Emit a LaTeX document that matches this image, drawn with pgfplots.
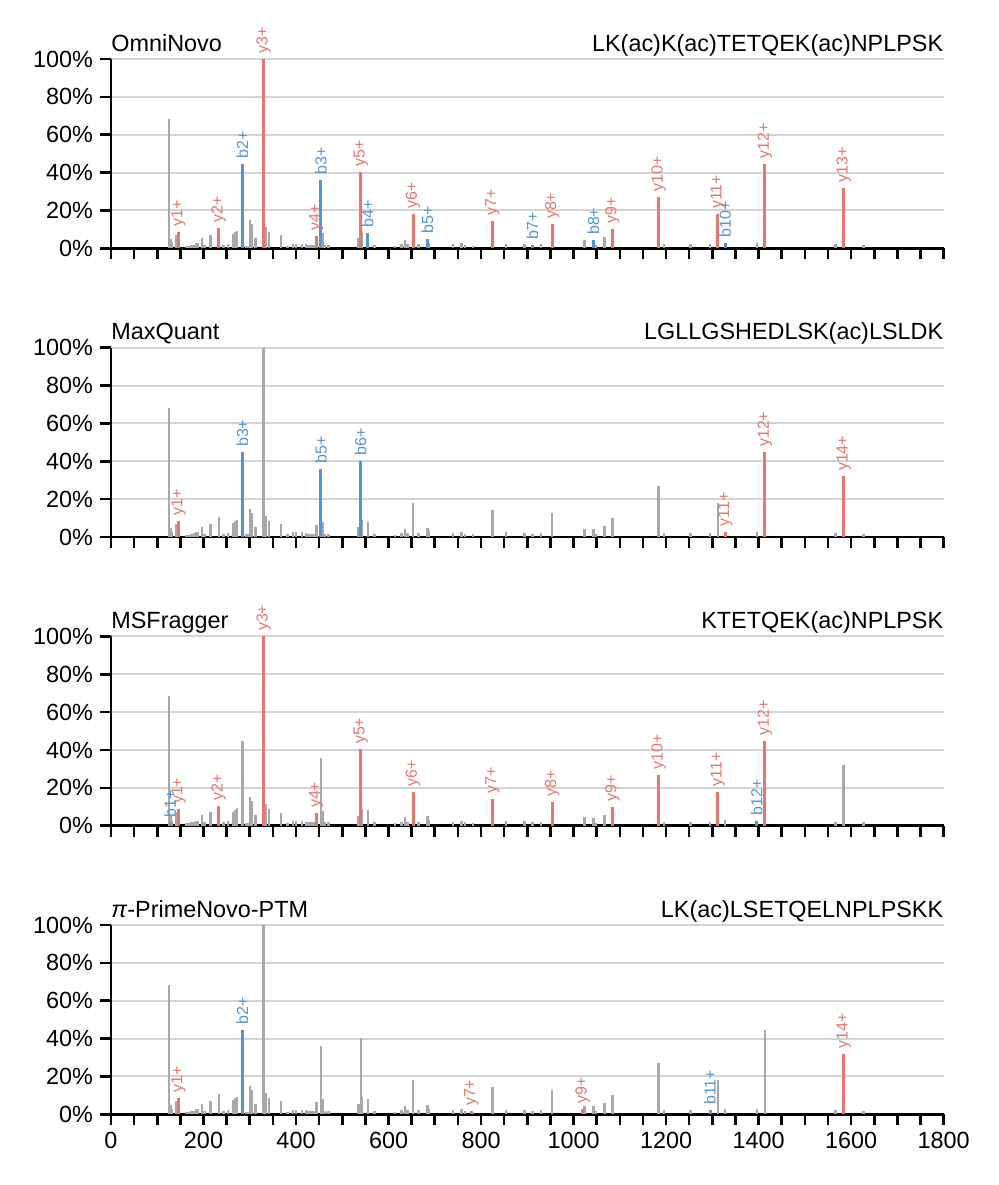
\documentclass[border=0pt]{standalone}
\usepackage{pgfplots}
\pgfplotsset{compat=1.18}
\usepackage{pgfplotstable}
\usepackage{fontspec}
\setmainfont{Liberation Sans}

\definecolor{ionred}{RGB}{232,118,108}
\definecolor{ionblue}{RGB}{82,150,213}
\definecolor{peakgray}{RGB}{168,168,168}
\definecolor{gridgray}{RGB}{212,212,212}

\newcommand{\lblfont}{\fontsize{11.7}{14}\selectfont}

% observed spectrum (m/z, relative intensity in %)
\pgfplotstableread{
mz int
125 68.3
129 5
132 2.6
141 7
146 8.6
163 1.2
168 1.2
174 1.8
179 2
184 2.6
188 2.6
197 5.5
202 1.8
215 7
233 10.6
243 1.8
253 2.3
264 7.4
268 8.5
272 9.2
284 44.7
292 1.4
296 1.4
300 15
304 12.9
312 5.5
330 100
334 11.3
341 8.6
368 6.9
382 1.4
393 2.5
400 2.5
413 2.5
421 2.1
426 1.8
431 1.8
434 1.8
438 1.8
444 6.5
454 36
457 8
462 1.8
470 1.8
535 5.3
540 40.3
543 9
555 8.1
570 1.8
614 1.2
628 2.1
636 4.4
641 2.1
653 18
665 2.1
684 4.9
688 3
740 2.1
758 2.6
765 1.8
783 1.4
825 14.3
854 2.5
894 2.3
911 1.8
929 2.1
954 12.6
1024 4.4
1043 4.2
1048 1.5
1067 5.8
1084 10
1184 27
1195 2.1
1253 2.1
1295 2.1
1312 18
1328 2.8
1396 2.6
1413.5 44.7
1566 2.1
1584 32
1627 1.8
}\spec

% OmniNovo
\pgfplotstableread{
mz int lab
146 8.6 y1+
233 10.6 y2+
330 100 y3+
444 6.5 y4+
540 40.3 y5+
653 18 y6+
825 14.3 y7+
954 12.6 y8+
1084 10 y9+
1184 27 y10+
1312 18 y11+
1413.5 44.7 y12+
1584 32 y13+
}\omniY
\pgfplotstableread{
mz int lab
284 44.7 b2+
454 36 b3+
555 8.1 b4+
684 4.9 b5+
911 1.8 b7+
1043 4.2 b8+
1328 2.8 b10+
}\omniB

% MaxQuant
\pgfplotstableread{
mz int lab
146 8.6 y1+
1328 2.8 y11+
1413.5 44.7 y12+
1584 32 y14+
}\maxY
\pgfplotstableread{
mz int lab
284 44.7 b3+
454 36 b5+
540 40.3 b6+
}\maxB

% MSFragger
\pgfplotstableread{
mz int lab
146 8.6 y1+
233 10.6 y2+
330 100 y3+
444 6.5 y4+
540 40.3 y5+
653 18 y6+
825 14.3 y7+
954 12.6 y8+
1084 10 y9+
1184 27 y10+
1312 18 y11+
1413.5 44.7 y12+
}\msfY
\pgfplotstableread{
mz int lab
128 1.5 b1+
1396 2.6 b12+
}\msfB

% pi-PrimeNovo-PTM
\pgfplotstableread{
mz int lab
146 8.6 y1+
779 1.5 y7+
1020 3 y9+
1584 32 y14+
}\pinY
\pgfplotstableread{
mz int lab
284 44.7 b2+
1295 2.1 b11+
}\pinB

\pgfplotsset{
  spectrum/.style={
    scale only axis, width=416.3pt, height=94.65pt,
    xmin=0, xmax=1800, ymin=0, ymax=100,
    axis x line*=bottom, axis y line*=left,
    axis line style={line width=1.3pt, black},
    xtick={0,200,...,1800}, minor x tick num=3,
    ytick={0,20,...,100}, yticklabels={0\%,20\%,40\%,60\%,80\%,100\%},
    tick align=outside, major tick length=5.5pt, minor tick length=5.5pt,
    tick style={line width=1.3pt, black},
    ymajorgrids, major grid style={line width=1pt, gridgray},
    tick label style={font=\lblfont},
    clip=false,
  },
  graypeaks/.style={ycomb, no marks, peakgray, line width=1.2pt},
  ions/.style={ycomb, no marks, line width=1.5pt, color=#1,
    nodes near coords, point meta=explicit symbolic,
    every node near coord/.append style={rotate=90, anchor=west, inner sep=2pt,
      text=#1, font=\fontsize{8}{9}\selectfont}},
}

\begin{document}
\begin{tikzpicture}
\useasboundingbox (-55.5pt,-468.35pt) rectangle (443.5pt,124.15pt);

\begin{axis}[spectrum, xticklabels={}]
\addplot[graypeaks] table[x=mz, y=int] {\spec};
\addplot[ions=ionred] table[x=mz, y=int, meta=lab] {\omniY};
\addplot[ions=ionblue] table[x=mz, y=int, meta=lab] {\omniB};
\node[anchor=base west, inner sep=0pt, font=\lblfont] at ([yshift=4pt]rel axis cs:0,1) {OmniNovo};
\node[anchor=base east, inner sep=0pt, font=\lblfont] at ([yshift=4pt]rel axis cs:1,1) {LK(ac)K(ac)TETQEK(ac)NPLPSK};
\end{axis}

\begin{axis}[spectrum, at={(0pt,-144.35pt)}, xticklabels={}]
\addplot[graypeaks] table[x=mz, y=int] {\spec};
\addplot[ions=ionred] table[x=mz, y=int, meta=lab] {\maxY};
\addplot[ions=ionblue] table[x=mz, y=int, meta=lab] {\maxB};
\node[anchor=base west, inner sep=0pt, font=\lblfont] at ([yshift=4pt]rel axis cs:0,1) {MaxQuant};
\node[anchor=base east, inner sep=0pt, font=\lblfont] at ([yshift=4pt]rel axis cs:1,1) {LGLLGSHEDLSK(ac)LSLDK};
\end{axis}

\begin{axis}[spectrum, at={(0pt,-288.7pt)}, xticklabels={}]
\addplot[graypeaks] table[x=mz, y=int] {\spec};
\addplot[ions=ionred] table[x=mz, y=int, meta=lab] {\msfY};
\addplot[ions=ionblue] table[x=mz, y=int, meta=lab] {\msfB};
\node[anchor=base west, inner sep=0pt, font=\lblfont] at ([yshift=4pt]rel axis cs:0,1) {MSFragger};
\node[anchor=base east, inner sep=0pt, font=\lblfont] at ([yshift=4pt]rel axis cs:1,1) {KTETQEK(ac)NPLPSK};
\end{axis}

\begin{axis}[spectrum, at={(0pt,-433pt)},
  xticklabels={0,200,400,600,800,1000,1200,1400,1600,1800}]
\addplot[graypeaks] table[x=mz, y=int] {\spec};
\addplot[ions=ionred] table[x=mz, y=int, meta=lab] {\pinY};
\addplot[ions=ionblue] table[x=mz, y=int, meta=lab] {\pinB};
\node[anchor=base west, inner sep=0pt, font=\lblfont] at ([yshift=4pt]rel axis cs:0,1) {\textit{π}-PrimeNovo-PTM};
\node[anchor=base east, inner sep=0pt, font=\lblfont] at ([yshift=4pt]rel axis cs:1,1) {LK(ac)LSETQELNPLPSKK};
\end{axis}
\end{tikzpicture}
\end{document}
